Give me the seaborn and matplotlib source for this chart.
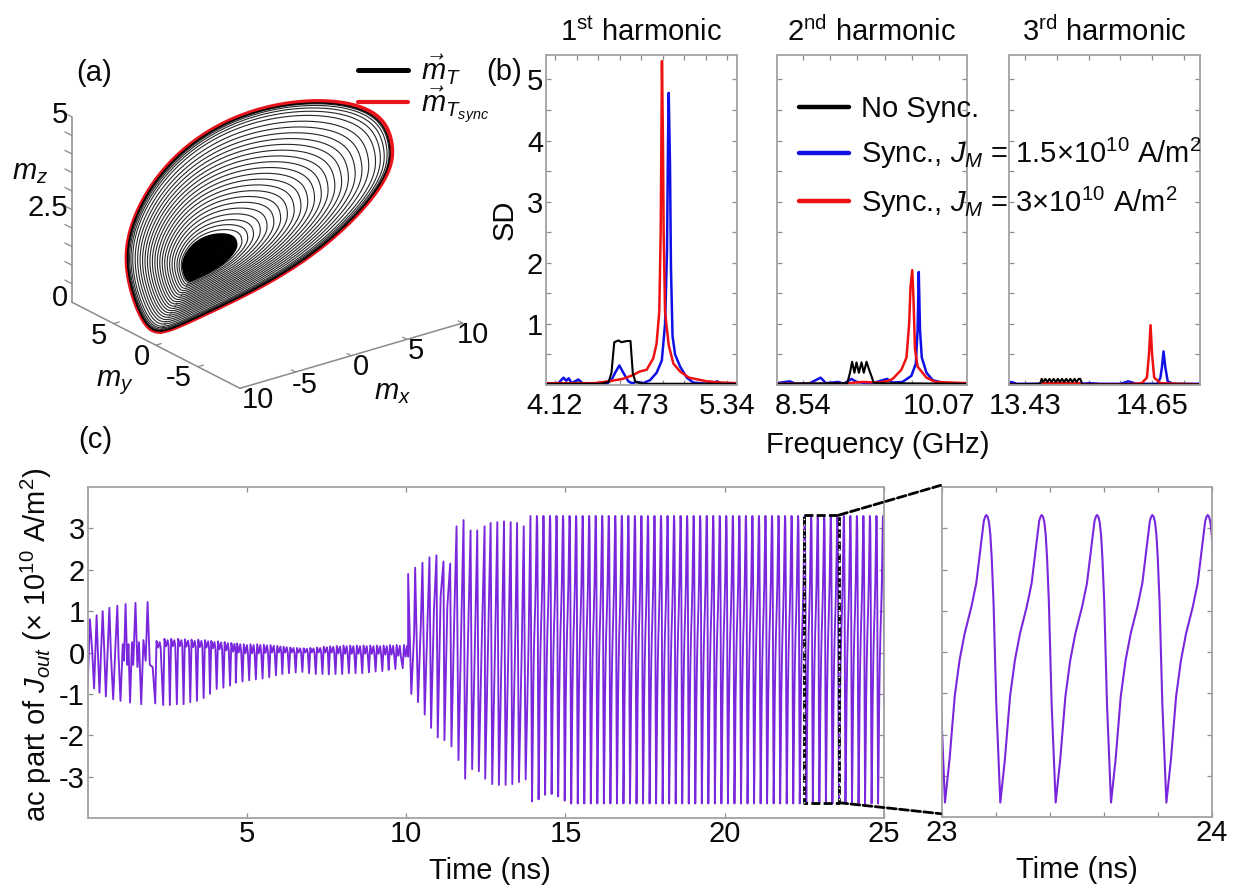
import numpy as np
import matplotlib
matplotlib.use("Agg")
import matplotlib.pyplot as plt
from matplotlib.lines import Line2D
from matplotlib.patches import ConnectionPatch
import seaborn as sns

# ---------- panel (a): orbit ----------
loop_mx = [-8.11,-6.41,-3.29,0.13,3.75,6.39,8.05,8.81,9.00,8.73,7.58,5.39,3.00,0.44,-2.04,-4.65,-6.70,-7.88,-8.63,-8.96,-8.70]
loop_my = [2.02,1.05,-0.30,-1.73,-2.90,-3.46,-3.41,-3.12,-2.50,-1.55,-0.22,1.65,3.25,4.62,5.64,6.24,6.27,5.89,5.15,4.12,2.79]
loop_mz = [0.00,0.15,0.66,1.25,2.05,2.79,3.45,3.89,4.29,4.66,4.91,5.02,4.91,4.62,4.18,3.48,2.71,2.05,1.39,0.73,0.15]
centre_m = [-4.66, 2.12, 1.375]
ring_fractions = [0.23,0.26,0.29,0.325,0.36,0.395,0.43,0.465,0.50,0.535,0.57,0.605,0.64,0.675,0.71,0.745,0.78,0.815,0.85,0.885,0.92,0.945,0.965,0.98,0.99]
core_fractions = [0.01,0.02,0.03,0.04,0.05,0.06,0.07,0.08,0.09,0.10,0.11,0.12,0.13,0.14,0.15,0.16,0.17,0.18,0.19,0.20]

# ---------- panel (b): spectra ----------
f1_blue = [4.06,4.144,4.18,4.20,4.217,4.238,4.285,4.32,4.487,4.52,4.546,4.576,4.604,4.64,4.664,4.70,4.746,4.794,4.84,4.877,4.90,4.914,4.921,4.926,4.935,4.942,4.953,4.971,5.007,5.054,5.10,5.196,5.22,5.24,5.27,5.30,5.41]
s1_blue = [0.02,0.03,0.12,0.07,0.11,0.03,0.09,0.02,0.02,0.08,0.20,0.32,0.20,0.06,0.03,0.05,0.03,0.08,0.20,0.40,1.00,2.20,4.00,4.78,3.60,1.90,0.80,0.50,0.30,0.12,0.04,0.02,0.05,0.02,0.06,0.02,0.02]
f1_red = [4.06,4.40,4.50,4.60,4.66,4.72,4.77,4.817,4.84,4.859,4.869,4.874,4.878,4.885,4.89,4.90,4.926,4.959,5.007,5.07,5.196,5.30,5.41]
s1_red = [0.03,0.03,0.06,0.10,0.15,0.22,0.25,0.44,0.68,1.20,2.50,4.00,5.30,4.00,2.50,1.20,0.65,0.35,0.22,0.12,0.06,0.04,0.03]
f1_black = [4.06,4.44,4.50,4.52,4.54,4.57,4.59,4.63,4.655,4.671,4.69,4.75,5.41]
s1_black = [0.02,0.02,0.05,0.20,0.70,0.73,0.70,0.72,0.72,0.20,0.05,0.02,0.02]

f2_blue = [8.25,8.394,8.46,8.62,8.74,8.80,8.94,9.00,9.087,9.143,9.30,9.487,9.55,9.66,9.76,9.81,9.83,9.843,9.857,9.877,9.93,10.00,10.12,10.385]
s2_blue = [0.03,0.06,0.02,0.03,0.12,0.03,0.05,0.02,0.10,0.05,0.02,0.10,0.04,0.05,0.15,0.35,0.90,1.85,0.90,0.45,0.20,0.08,0.03,0.02]
f2_red = [8.25,9.00,9.20,9.40,9.50,9.55,9.648,9.705,9.735,9.75,9.77,9.784,9.80,9.83,9.93,10.03,10.385]
s2_red = [0.02,0.02,0.05,0.04,0.07,0.10,0.25,0.45,1.00,1.60,1.88,1.40,0.60,0.30,0.12,0.05,0.03]
f2_black = [8.25,9.04,9.07,9.094,9.12,9.143,9.17,9.20,9.225,9.256,9.285,9.31,9.338,10.385]
s2_black = [0.02,0.03,0.20,0.38,0.20,0.37,0.20,0.37,0.20,0.38,0.25,0.15,0.03,0.02]

f3_blue = [13.276,13.30,13.35,13.97,14.05,14.15,14.35,14.42,14.50,14.70,14.73,14.745,14.76,14.776,14.80,14.85,15.11]
s3_blue = [0.02,0.05,0.02,0.02,0.03,0.02,0.02,0.06,0.02,0.02,0.12,0.30,0.55,0.30,0.06,0.02,0.02]
f3_red = [13.276,13.59,13.60,13.95,13.97,14.40,14.55,14.60,14.62,14.635,14.65,14.67,14.73,15.11]
s3_red = [0.01,0.01,0.03,0.03,0.01,0.01,0.03,0.12,0.50,0.98,0.50,0.12,0.03,0.01]
f3_black = [13.276,13.574,13.59,13.605,13.625,13.645,13.665,13.685,13.705,13.725,13.745,13.765,13.785,13.805,13.825,13.845,13.865,13.885,13.905,13.925,13.945,13.96,13.98,15.11]
s3_black = [0.01,0.02,0.10,0.05,0.10,0.05,0.10,0.05,0.10,0.05,0.10,0.05,0.10,0.05,0.10,0.05,0.10,0.05,0.10,0.05,0.10,0.10,0.01,0.01]

sd_ticks = [0.5,1,1.5,2,2.5,3,3.5,4,4.5,5]
sd_labels = ["","1","","2","","3","","4","","5"]
f1_ticks = [4.12,4.2725,4.425,4.5775,4.73,4.8825,5.035,5.1875,5.34]
f1_labels = ["4.12","","","","4.73","","","","5.34"]
f2_ticks = [8.54,8.846,9.152,9.458,9.764,10.07]
f2_labels = ["8.54","","","","","10.07"]
f3_ticks = [13.43,13.735,14.04,14.345,14.65,14.955]
f3_labels = ["13.43","","","","14.65",""]
titles = ["1$^{\\mathrm{st}}$ harmonic","2$^{\\mathrm{nd}}$ harmonic","3$^{\\mathrm{rd}}$ harmonic"]
legend_labels = ["No Sync.","Sync., $J_M$ = 1.5×10$^{10}$ A/m$^2$","Sync., $J_M$ = 3×10$^{10}$ A/m$^2$"]

# ---------- panel (c): time trace, cycle by cycle ----------
early_t = [0.00,0.07,0.14,0.20,0.28,0.32,0.37,0.47,0.52,0.57,0.68,0.73,0.80,0.87,0.93,0.97,1.03,1.10,1.14,1.19,1.24,1.28,1.33,1.39,1.43,1.50,1.56,1.61,1.68,1.75,1.82,1.88,1.95,2.04]
early_v = [-0.8,0.8,0.05,-0.87,0.9,0.0,-0.97,1.0,0.05,-1.06,1.08,-0.05,-1.13,0.15,1.13,-0.1,-1.17,0.2,-0.2,1.17,-0.3,0.2,-1.21,0.25,-0.3,1.2,-0.35,0.25,-1.25,0.3,-0.2,1.22,-0.3,-0.35]
mid_t = [2.12,2.37,2.58,2.80,3.01,3.22,3.43,3.64,3.84,4.05,4.26,4.47,4.65,4.86,5.07,5.28,5.49,5.70,5.91,6.11,6.32,6.53,6.74,6.95,7.16,7.37,7.57,7.78,7.99,8.20,8.41,8.62,8.83,9.04,9.25,9.45,9.66,9.89]
mid_low = [-1.23,-1.27,-1.27,-1.25,-1.25,-1.2,-1.17,-1.1,-1.0,-0.88,-0.85,-0.8,-0.73,-0.7,-0.67,-0.65,-0.63,-0.6,-0.55,-0.52,-0.5,-0.48,-0.47,-0.5,-0.52,-0.52,-0.53,-0.52,-0.52,-0.5,-0.5,-0.5,-0.48,-0.46,-0.45,-0.42,-0.4,-0.38]
mid_high = [0.28,0.33,0.33,0.33,0.32,0.31,0.31,0.30,0.28,0.27,0.25,0.23,0.22,0.20,0.20,0.20,0.19,0.18,0.16,0.14,0.12,0.11,0.10,0.11,0.12,0.14,0.15,0.16,0.17,0.17,0.17,0.17,0.17,0.17,0.17,0.18,0.18,0.18]
mid_dip = [0.12,0.15,0.15,0.15,0.14,0.13,0.13,0.12,0.10,0.08,0.05,0.02,0.0,-0.02,-0.02,-0.02,-0.01,0.0,0.0,0.0,0.0,0.0,0.0,0.0,0.0,0.0,0.0,-0.02,-0.03,-0.03,-0.03,-0.03,-0.03,-0.03,-0.05,-0.05,-0.08,-0.1]
grow_peak_t = [10.06,10.28,10.51,10.73,10.95,11.17,11.38,11.58,11.80,12.02,12.23,12.46,12.65,12.86,13.07,13.28,13.48,13.69,13.90]
grow_peak_v = [1.9,2.05,2.17,2.3,2.35,2.2,2.15,3.05,3.2,2.95,2.95,3.05,3.13,3.15,3.17,3.15,3.13,3.05,3.3]
grow_low_t = [10.16,10.37,10.58,10.78,10.99,11.20,11.42,11.64,11.85,12.07,12.28,12.48,12.70,12.91,13.12,13.33,13.54,13.75]
grow_low_v = [-1.0,-1.2,-1.5,-1.82,-2.05,-2.12,-2.27,-2.6,-3.05,-2.82,-2.87,-3.05,-3.18,-3.2,-3.2,-3.18,-3.13,-3.07]
grow_shoulder = [0.5,0.7,0.8,1.0,1.35,1.1,0.9,0.6,0.3,0.3,0.2,0.2,0.2,0.2,0.2,0.2,0.2,0.2]
sync_t = [13.95,14.155,14.36,14.565,14.77,14.975,15.18,15.385,15.59,15.795,16.00,16.205,16.41,16.615,16.82,17.025,17.23,17.435,17.64,17.845,18.05,18.255,18.46,18.665,18.87,19.075,19.28,19.485,19.69,19.895,20.10,20.305,20.51,20.715,20.92,21.125,21.33,21.535,21.74,21.945,22.15,22.355,22.56,22.765,22.97,23.175,23.38,23.585,23.79,23.995,24.20,24.405,24.61,24.815,25.02]
sync_low = [-3.6,-3.55,-3.44,-3.42,-3.48,-3.58,-3.65,-3.65,-3.65,-3.65,-3.65,-3.65,-3.65,-3.65,-3.65,-3.65,-3.65,-3.65,-3.65,-3.65,-3.65,-3.65,-3.65,-3.65,-3.65,-3.65,-3.65,-3.65,-3.65,-3.65,-3.65,-3.65,-3.65,-3.65,-3.65,-3.65,-3.65,-3.65,-3.65,-3.65,-3.65,-3.65,-3.65,-3.65,-3.65,-3.65,-3.65,-3.65,-3.65,-3.65,-3.65,-3.65,-3.65,-3.65,-3.65]
cycle_phase = [0.0,0.017,0.036,0.054,0.073,0.098,0.116,0.135,0.144,0.149,0.153,0.158,0.163,0.168,0.173,0.18,0.19]
cycle_value = [-3.65,-2.6,-1.08,-0.2,0.45,1.1,1.67,2.7,3.18,3.28,3.32,3.28,3.15,2.85,2.3,1.18,-1.25]
inset_starts = [22.806,23.011,23.216,23.421,23.626,23.831,24.036]
time_ticks = [5,10,15,20,25]
ac_ticks = [-3,-2,-1,0,1,2,3]
inset_x_ticks = [23,23.2,23.4,23.6,23.8,24]
inset_x_labels = ["23","","","","","24"]
zoom_box_t = [22.49,23.58,23.58,22.49,22.49]
zoom_box_v = [3.32,3.32,-3.63,-3.63,3.32]

FIG_W, FIG_H = 1241, 892
PURPLE = "#7a26dc"
GREY = "#a3a3a3"
FS = 21

sns.set_theme(style="white")
plt.rcParams.update({
    "font.family": ["Liberation Sans", "DejaVu Sans"],
    "mathtext.fontset": "custom",
    "mathtext.rm": "Liberation Sans",
    "mathtext.it": "Liberation Sans:italic",
    "mathtext.bf": "Liberation Sans:bold",
    "text.color": "#0a0a0a",
    "axes.labelcolor": "#0a0a0a",
    "axes.unicode_minus": False,
    "font.size": FS,
})

fig = plt.figure(figsize=(FIG_W / 100, FIG_H / 100), dpi=100, facecolor="white")


def add_ax(left, top, right, bottom):
    return fig.add_axes([left / FIG_W, 1 - bottom / FIG_H, (right - left) / FIG_W, (bottom - top) / FIG_H])


def px_text(x, y, s, **kw):
    kw.setdefault("fontsize", FS)
    kw.setdefault("ha", "center")
    kw.setdefault("va", "center")
    return fig.text(x / FIG_W, 1 - y / FIG_H, s, **kw)


def style_ax(ax):
    for sp in ax.spines.values():
        sp.set_color(GREY)
        sp.set_linewidth(1.3)
    ax.tick_params(direction="in", length=3.5, width=0.9, color="#8c8c8c", top=True, right=True,
                   bottom=True, left=True, labelsize=FS, labelcolor="#0a0a0a", pad=2)
    ax.set_xlabel("")
    ax.set_ylabel("")


def smooth_closed(a, harmonics=6, n=240):
    # low-harmonic periodic fit through the loop values read above, only to draw it as a round curve
    spec = np.fft.rfft(np.asarray(a, float))
    spec[harmonics + 1:] = 0
    return np.append(np.fft.irfft(spec, n=n) * n / len(a), np.fft.irfft(spec, n=n)[0] * n / len(a))


# ---------- panel (a) ----------
w3 = 450
ax3d = fig.add_axes([36 / FIG_W, 1 - 451 / FIG_H, w3 / FIG_W, w3 / FIG_H], projection="3d", proj_type="ortho")
ax3d.view_init(elev=22.8, azim=-127.1)
ax3d.set_xlim(-10, 10)
ax3d.set_ylim(-10, 10)
ax3d.set_zlim(0, 5)
ax3d.set_box_aspect((1, 1, 0.72), zoom=0.9555)
ax3d.set_axis_off()
ax3d.patch.set_alpha(0)
ax3d.computed_zorder = False

sx, sy, sz = smooth_closed(loop_mx), smooth_closed(loop_my), smooth_closed(loop_mz)
cx, cy, cz = centre_m


def ring(f):
    return cx + f * (sx - cx), cy + f * (sy - cy), cz + f * (sz - cz)


ax3d.plot(*ring(1.006), color="#e8141c", lw=3.0, zorder=2)
for f in core_fractions:
    ax3d.plot(*ring(f), color="black", lw=2.0, zorder=3)
for f in ring_fractions:
    ax3d.plot(*ring(f), color="#262626", lw=0.8, zorder=3)
ax3d.plot(*ring(0.995), color="black", lw=1.0, zorder=4)

AX3 = "#8a8a8a"
ax3d.plot([-10, -10], [10, 10], [0, 5], color=AX3, lw=1.1, zorder=1)
ax3d.plot([-10, -10], [10, -10], [0, 0], color=AX3, lw=1.1, zorder=1)
ax3d.plot([-10, 10], [-10, -10], [0, 0], color=AX3, lw=1.1, zorder=1)
for z in [0.5, 1, 1.5, 2, 2.5, 3, 3.5, 4, 4.5, 5]:
    ax3d.plot([-10, -10], [10, 10.8], [z, z], color=AX3, lw=0.9, zorder=1)
for y in [5, 0, -5]:
    ax3d.plot([-10, -9.5], [y, y], [0, 0], color=AX3, lw=0.9, zorder=1)
for x in [-5, 0, 5, 10]:
    ax3d.plot([x, x], [-10, -9.5], [0, 0], color=AX3, lw=0.9, zorder=1)

for (x, y, s) in [(60, 115, "5"), (48, 208, "2.5"), (60, 298, "0"), (99, 336, "5"), (142, 357, "0"), (179, 378, "-5"),
                  (258, 400, "10"), (305, 385, "-5"), (361, 367, "0"), (416, 351, "5"), (473, 335, "10")]:
    px_text(x, y, s)
px_text(30, 172, "$m_z$")
px_text(115, 383, "$m_y$")
px_text(393, 392, "$m_x$")
px_text(94, 73, "(a)")
px_text(504, 72, "(b)")
px_text(95, 440, "(c)")

fig.legend(handles=[Line2D([], [], color="black", lw=3.6), Line2D([], [], color="#e8141c", lw=3.0)],
           labels=["$\\vec{m}_T$", "$\\vec{m}_{T_{sync}}$"], frameon=False, fontsize=FS,
           loc="upper left", bbox_to_anchor=(358 / FIG_W, 1 - 53 / FIG_H), borderpad=0, borderaxespad=0,
           handlelength=1.7, handletextpad=0.45, labelspacing=-0.1)

# ---------- panel (b) ----------
ax1 = add_ax(546, 55, 737, 385)
ax2 = add_ax(777, 55, 967, 385)
ax3 = add_ax(1009, 55, 1200, 385)
spectra = [
    (ax1, f1_blue, s1_blue, f1_red, s1_red, f1_black, s1_black, (4.056, 5.41), f1_ticks, f1_labels),
    (ax2, f2_blue, s2_blue, f2_red, s2_red, f2_black, s2_black, (8.25, 10.385), f2_ticks, f2_labels),
    (ax3, f3_blue, s3_blue, f3_red, s3_red, f3_black, s3_black, (13.276, 15.11), f3_ticks, f3_labels),
]
for i, (ax, fb, sb, fr, sr, fk, sk, xl, xt, xtl) in enumerate(spectra):
    sns.lineplot(x=fb, y=sb, color="#1010e6", linewidth=1.8, sort=False, estimator=None, errorbar=None, ax=ax)
    sns.lineplot(x=fr, y=sr, color="#ee1111", linewidth=1.8, sort=False, estimator=None, errorbar=None, ax=ax)
    sns.lineplot(x=fk, y=sk, color="black", linewidth=1.5, sort=False, estimator=None, errorbar=None, ax=ax)
    ax.set_xlim(*xl)
    ax.set_ylim(0, 5.4)
    ax.set_xticks(xt)
    ax.set_xticklabels(xtl)
    ax.set_yticks(sd_ticks)
    ax.set_yticklabels(sd_labels if i == 0 else [""] * len(sd_ticks))
    style_ax(ax)
    ax.tick_params(axis="x", pad=5)
    ax.set_title(titles[i], fontsize=FS, pad=10, color="#0a0a0a")

ax1.set_ylabel("SD", fontsize=FS)
ax1.yaxis.set_label_coords((519 - 546) / 191, 0.5)
px_text(878, 445, "Frequency (GHz)")

ax2.set_zorder(5)
ax2.patch.set_alpha(0)
ax2.legend(handles=[Line2D([], [], color="black", lw=3.2), Line2D([], [], color="#1010e6", lw=3.2), Line2D([], [], color="#ee1111", lw=3.2)],
           labels=legend_labels, frameon=False, fontsize=FS, loc="upper left",
           bbox_to_anchor=((799 - 777) / 190, (385 - 95) / 330), borderpad=0, borderaxespad=0,
           handlelength=1.72, handletextpad=0.41, labelspacing=0.45)

# ---------- panel (c) ----------
cycle_phase_a = np.array(cycle_phase)
cycle_value_a = np.array(cycle_value)
wmin, wmax = min(cycle_value), max(cycle_value)

trace_t = list(early_t)
trace_v = list(early_v)
for t, lo, hi, dip in zip(mid_t, mid_low, mid_high, mid_dip):
    trace_t += [t, t + 0.04, t + 0.09, t + 0.14, t + 0.17]
    trace_v += [lo, hi, dip, hi * 0.9, dip]
for i, (t, v) in enumerate(zip(grow_peak_t, grow_peak_v)):
    trace_t.append(t)
    trace_v.append(v)
    if i < len(grow_low_t):
        trace_t += [grow_low_t[i], grow_low_t[i] + 0.09]
        trace_v += [grow_low_v[i], grow_shoulder[i]]
for t, lo in zip(sync_t, sync_low):
    trace_t += list(t + cycle_phase_a)
    trace_v += list(lo + (cycle_value_a - wmin) / (wmax - wmin) * (3.3 - lo))

axc = add_ax(87.7, 487, 884, 818)
sns.lineplot(x=trace_t, y=trace_v, color=PURPLE, linewidth=1.35, sort=False, estimator=None, errorbar=None, ax=axc)
axc.set_xlim(0, 25)
axc.set_ylim(-4, 4)
axc.set_xticks(time_ticks)
axc.set_yticks(ac_ticks)
style_ax(axc)
axc.tick_params(axis="x", pad=1.5)
axc.set_xlabel("Time (ns)", fontsize=FS)
axc.xaxis.set_label_coords((490 - 87.7) / 796.3, (818 - 857) / 331)
axc.set_ylabel("ac part of $J_{out}$ (× 10$^{10}$ A/m$^2$)", fontsize=FS)
axc.yaxis.set_label_coords((54 - 87.7) / 796.3, (818 - 645) / 331)
axc.plot(zoom_box_t, zoom_box_v, color="black", lw=2.0, ls=(0, (3.2, 1.2)), zorder=5)
axc.plot(zoom_box_t[1:3], zoom_box_v[1:3], color="white", lw=1.0, ls=(0, (1, 3)), zorder=6)
axc.plot(zoom_box_t[3:5], zoom_box_v[3:5], color="white", lw=1.0, ls=(0, (1, 3)), zorder=6)

inset_t, inset_v = [], []
for t in inset_starts:
    inset_t += list(t + cycle_phase_a)
    inset_v += cycle_value
axi = add_ax(942, 487, 1212, 817)
sns.lineplot(x=inset_t, y=inset_v, color=PURPLE, linewidth=1.5, sort=False, estimator=None, errorbar=None, ax=axi)
axi.set_xlim(23, 24)
axi.set_ylim(-4, 4)
axi.set_xticks(inset_x_ticks)
axi.set_xticklabels(inset_x_labels)
axi.set_yticks(ac_ticks)
axi.set_yticklabels([""] * len(ac_ticks))
style_ax(axi)
axi.tick_params(axis="x", pad=1.5)
axi.set_xlabel("Time (ns)", fontsize=FS)
axi.xaxis.set_label_coords(0.5, (818 - 857) / 331)

for yb, yf in [(3.32, 1.005), (-3.63, 0.01)]:
    con = ConnectionPatch(xyA=(23.58, yb), coordsA=axc.transData, xyB=(-0.005, yf), coordsB=axi.transAxes,
                          color="black", lw=2.0, ls=(0, (3.2, 1.2)), zorder=6)
    fig.add_artist(con)

fig.savefig("out.png", dpi=100, facecolor="white")
